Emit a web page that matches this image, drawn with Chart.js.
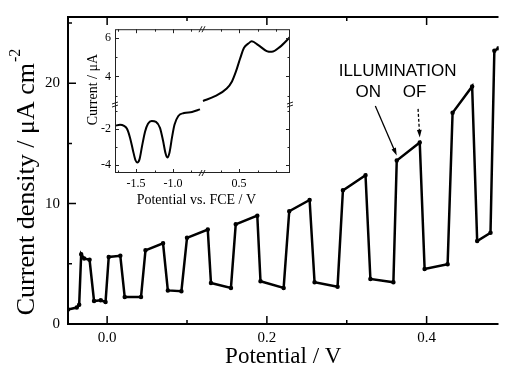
<!DOCTYPE html>
<html>
<head>
<meta charset="utf-8">
<script src="https://cdn.jsdelivr.net/npm/chart.js@4"></script>
<style>
  html, body { margin: 0; padding: 0; background: #fff; }
  #wrap { position: relative; width: 505px; height: 371px; }
  #main { position: absolute; left: 0; top: 0; }
  #inset { position: absolute; left: 78px; top: 18px; }
</style>
</head>
<body>
<div id="wrap">
  <canvas id="main" width="505" height="371"></canvas>
  <canvas id="inset" width="220" height="192"></canvas>
</div>
<script>
// main plot: photocurrent under chopped light
const potential = [-0.049, -0.038, -0.035, -0.0325, -0.0288, -0.022, -0.0164, -0.008, -0.002, 0.002, 0.0165, 0.022, 0.0424, 0.048, 0.070, 0.076, 0.093, 0.100, 0.126, 0.130, 0.155, 0.161, 0.188, 0.192, 0.221, 0.228, 0.2535, 0.2597, 0.2885, 0.2952, 0.3235, 0.3296, 0.3584, 0.3626, 0.3914, 0.3975, 0.4263, 0.4325, 0.457, 0.4633, 0.480, 0.4848, 0.490];
const current = [1.2, 1.37, 1.6, 5.8, 5.44, 5.33, 1.91, 1.97, 1.83, 5.57, 5.66, 2.24, 2.24, 6.12, 6.70, 2.79, 2.73, 7.16, 7.84, 3.40, 3.0, 8.28, 9.0, 3.55, 3.0, 9.37, 10.3, 3.47, 3.1, 11.1, 12.35, 3.74, 3.47, 13.58, 15.08, 4.57, 4.97, 17.54, 19.73, 6.89, 7.57, 22.7, 22.9];
const xLabels = [0, 0.2, 0.4];
const yLabels = [0, 10, 20];

// inset: voltammogram, two pieces on broken axes
const cathV = [-1.784, -1.716, -1.662, -1.622, -1.581, -1.541, -1.507, -1.482, -1.453, -1.419, -1.378, -1.338, -1.288, -1.230, -1.176, -1.135, -1.101, -1.077, -1.047, -1.014, -0.980, -0.928, -0.851, -0.743, -0.635];
const cathI = [-1.84, -1.78, -1.84, -2.0, -2.49, -3.19, -3.73, -3.85, -3.68, -2.97, -2.16, -1.73, -1.57, -1.62, -1.95, -2.65, -3.35, -3.58, -3.30, -2.49, -1.78, -1.30, -1.14, -1.08, -0.94];
const anodV = [0.0135, 0.176, 0.334, 0.405, 0.459, 0.514, 0.568, 0.626, 0.672, 0.761, 0.874, 0.942, 1.054, 1.189];
const anodI = [2.72, 2.97, 3.37, 3.74, 4.26, 4.92, 5.49, 5.71, 5.83, 5.63, 5.32, 5.28, 5.54, 6.05];
const insetXLabels = [-1.5, -1.0, 0.5];
const insetYLabels = [-4, -2, 4, 6];

const serif = "'Liberation Serif', 'Times New Roman', serif";
const sans = "'Liberation Sans', Arial, sans-serif";

const has = (list, v) => list.some(l => Math.abs(l - v) < 1e-6);

// text + arrows, in data units of the main plot
const notes = [
  { text: 'ILLUMINATION', x: 0.3636, y: 20.98 },
  { text: 'ON', x: 0.327, y: 19.26 },
  { text: 'OF', x: 0.385, y: 19.26 }
];
const arrows = [
  { from: [0.3358, 18.11], to: [0.3626, 13.99], dash: [] },
  { from: [0.3893, 17.87], to: [0.3914, 15.49], dash: [3, 2] }
];

function arrow(ctx, x1, y1, x2, y2, dash) {
  const ang = Math.atan2(y2 - y1, x2 - x1);
  ctx.save();
  ctx.lineWidth = 1.3;
  ctx.setLineDash(dash);
  ctx.beginPath();
  ctx.moveTo(x1, y1);
  ctx.lineTo(x2 - 5 * Math.cos(ang), y2 - 5 * Math.sin(ang));
  ctx.stroke();
  ctx.setLineDash([]);
  ctx.beginPath();
  ctx.moveTo(x2, y2);
  ctx.lineTo(x2 - 8 * Math.cos(ang - 0.3), y2 - 8 * Math.sin(ang - 0.3));
  ctx.lineTo(x2 - 8 * Math.cos(ang + 0.3), y2 - 8 * Math.sin(ang + 0.3));
  ctx.closePath();
  ctx.fill();
  ctx.restore();
}

const mainFrame = {
  id: 'mainFrame',
  afterDraw(chart) {
    const { ctx, chartArea: a } = chart;
    const x = chart.scales.x, y = chart.scales.y;
    ctx.save();
    ctx.strokeStyle = '#000';
    ctx.fillStyle = '#000';
    ctx.lineWidth = 2;
    ctx.beginPath();
    ctx.moveTo(a.right, a.top); ctx.lineTo(a.left, a.top);
    ctx.lineTo(a.left, a.bottom); ctx.lineTo(a.right, a.bottom);
    ctx.stroke();
    ctx.lineWidth = 1.5;
    ctx.beginPath();
    x.ticks.forEach(t => {
      const px = x.getPixelForValue(t.value);
      const len = t.label ? 8 : 4;
      ctx.moveTo(px, a.bottom); ctx.lineTo(px, a.bottom - len);
      ctx.moveTo(px, a.top); ctx.lineTo(px, a.top + len);
    });
    y.ticks.forEach(t => {
      const py = y.getPixelForValue(t.value);
      const len = t.label ? 8 : 4;
      ctx.moveTo(a.left, py); ctx.lineTo(a.left + len, py);
    });
    ctx.stroke();

    // y title with superscript
    ctx.save();
    ctx.translate(27, (a.top + a.bottom) / 2 + 12);
    ctx.rotate(-Math.PI / 2);
    ctx.textBaseline = 'middle';
    const main = 'Current density / μA cm';
    ctx.font = '26px ' + serif;
    const w1 = ctx.measureText(main).width;
    ctx.font = '16px ' + serif;
    const w2 = ctx.measureText('-2').width;
    const x0 = -(w1 + w2) / 2;
    ctx.font = '26px ' + serif;
    ctx.fillText(main, x0, 0);
    ctx.font = '16px ' + serif;
    ctx.fillText('-2', x0 + w1 + 1, -11);
    ctx.restore();

    ctx.font = '17px ' + sans;
    ctx.textAlign = 'center';
    ctx.textBaseline = 'middle';
    notes.forEach(n => ctx.fillText(n.text, x.getPixelForValue(n.x), y.getPixelForValue(n.y)));
    arrows.forEach(r => arrow(ctx,
      x.getPixelForValue(r.from[0]), y.getPixelForValue(r.from[1]),
      x.getPixelForValue(r.to[0]), y.getPixelForValue(r.to[1]), r.dash));
    ctx.restore();
  }
};

new Chart(document.getElementById('main'), {
  type: 'line',
  data: {
    datasets: [{
      data: potential.map((v, i) => ({ x: v, y: current[i] })),
      borderColor: '#000',
      backgroundColor: '#000',
      borderWidth: 2.5,
      pointRadius: 1,
      tension: 0
    }]
  },
  options: {
    responsive: false,
    animation: false,
    layout: { padding: { top: 13, right: 0, left: 0, bottom: 0 } },
    plugins: { legend: { display: false }, tooltip: { enabled: false } },
    scales: {
      x: {
        type: 'linear', min: -0.049, max: 0.49,
        grid: { display: false, drawTicks: false }, border: { display: false },
        ticks: {
          stepSize: 0.1, includeBounds: false, padding: 5, color: '#000',
          autoSkip: false, maxRotation: 0,
          font: { family: serif, size: 15 },
          callback: v => has(xLabels, v) ? v.toFixed(1) : ''
        },
        title: { display: true, text: 'Potential / V', color: '#000', font: { family: serif, size: 23 }, padding: 0 },
        afterFit: s => { s.height = 47; }
      },
      y: {
        min: 0, max: 25.5,
        grid: { display: false, drawTicks: false }, border: { display: false },
        ticks: {
          stepSize: 5, includeBounds: false, padding: 8, color: '#000',
          autoSkip: false,
          font: { family: serif, size: 15 },
          callback: v => has(yLabels, v) ? String(v) : ''
        },
        afterFit: s => { s.width = 68; }
      }
    }
  },
  plugins: [mainFrame]
});

// inset
const insetFrame = {
  id: 'insetFrame',
  beforeDraw(chart) {
    const { ctx, chartArea: a } = chart;
    ctx.save();
    ctx.fillStyle = '#fff';
    ctx.fillRect(a.left, a.top, a.right - a.left, a.bottom - a.top);
    ctx.restore();
  },
  afterDraw(chart) {
    const { ctx, chartArea: a, scales } = chart;
    ctx.save();
    ctx.strokeStyle = '#222';
    ctx.fillStyle = '#000';
    ctx.lineWidth = 1;
    ctx.strokeRect(a.left + 0.5, a.top + 0.5, a.right - a.left - 1, a.bottom - a.top - 1);
    ctx.beginPath();
    ['xL', 'xR'].forEach(id => {
      const s = scales[id];
      s.ticks.forEach(t => {
        if (t.value <= s.min || t.value >= s.max) return;
        const px = Math.round(s.getPixelForValue(t.value)) + 0.5;
        const len = t.label ? 4 : 2.5;
        ctx.moveTo(px, a.bottom); ctx.lineTo(px, a.bottom - len);
        ctx.moveTo(px, a.top); ctx.lineTo(px, a.top + len);
      });
    });
    ['yT', 'yB'].forEach(id => {
      const s = scales[id];
      s.ticks.forEach(t => {
        if (t.value <= s.min || t.value >= s.max) return;
        const py = Math.round(s.getPixelForValue(t.value)) + 0.5;
        const len = t.label ? 4 : 2.5;
        ctx.moveTo(a.left, py); ctx.lineTo(a.left + len, py);
        ctx.moveTo(a.right, py); ctx.lineTo(a.right - len, py);
      });
    });
    ctx.stroke();

    // axis break marks
    const bx = scales.xL.right, by = scales.yT.bottom;
    ctx.beginPath();
    [a.top, a.bottom].forEach(yy => {
      ctx.moveTo(bx - 3, yy + 3); ctx.lineTo(bx, yy - 3);
      ctx.moveTo(bx, yy + 3); ctx.lineTo(bx + 3, yy - 3);
    });
    [a.left, a.right].forEach(xx => {
      ctx.moveTo(xx - 3, by - 1); ctx.lineTo(xx + 3, by - 3);
      ctx.moveTo(xx - 3, by + 2); ctx.lineTo(xx + 3, by);
    });
    ctx.stroke();

    ctx.font = '14px ' + serif;
    ctx.textAlign = 'center';
    ctx.textBaseline = 'middle';
    ctx.fillText('Potential vs. FCE / V', a.left + (a.right - a.left) * 0.465, a.bottom + 27);
    ctx.translate(a.left - 22, a.top + (a.bottom - a.top) * 0.42);
    ctx.rotate(-Math.PI / 2);
    ctx.fillText('Current / μA', 0, 0);
    ctx.restore();
  }
};

const insetTicks = (step, fmt) => ({
  stepSize: step, includeBounds: false, padding: 4, color: '#000',
  autoSkip: false, maxRotation: 0, minRotation: 0,
  font: { family: serif, size: 12 },
  callback: fmt
});

new Chart(document.getElementById('inset'), {
  type: 'line',
  data: {
    datasets: [
      { data: cathV.map((v, i) => ({ x: v, y: cathI[i] })), xAxisID: 'xL', yAxisID: 'yB' },
      { data: anodV.map((v, i) => ({ x: v, y: anodI[i] })), xAxisID: 'xR', yAxisID: 'yT' }
    ]
  },
  options: {
    responsive: false,
    animation: false,
    layout: { padding: { top: 9, right: 8, left: 0, bottom: 0 } },
    elements: {
      line: { borderColor: '#000', borderWidth: 2, cubicInterpolationMode: 'monotone' },
      point: { radius: 0 }
    },
    plugins: { legend: { display: false }, tooltip: { enabled: false } },
    scales: {
      xL: {
        type: 'linear', position: 'bottom', stack: 'ix', stackWeight: 87,
        min: -1.784, max: -0.608,
        grid: { display: false, drawTicks: false }, border: { display: false },
        ticks: insetTicks(0.25, v => has(insetXLabels, v) ? v.toFixed(1) : ''),
        afterFit: s => { s.height = 37; }
      },
      xR: {
        type: 'linear', position: 'bottom', stack: 'ix', stackWeight: 88,
        min: 0, max: 1.189,
        grid: { display: false, drawTicks: false }, border: { display: false },
        ticks: insetTicks(0.25, v => has(insetXLabels, v) ? v.toFixed(1) : ''),
        afterFit: s => { s.height = 37; }
      },
      yB: {
        type: 'linear', position: 'left', stack: 'iy', stackWeight: 69,
        min: -4.43, max: -0.70,
        grid: { display: false, drawTicks: false }, border: { display: false },
        ticks: insetTicks(1, v => has(insetYLabels, v) ? String(v) : ''),
        afterFit: s => { s.width = 37; }
      },
      yT: {
        type: 'linear', position: 'left', stack: 'iy', stackWeight: 77,
        min: 2.51, max: 6.46,
        grid: { display: false, drawTicks: false }, border: { display: false },
        ticks: insetTicks(1, v => has(insetYLabels, v) ? String(v) : ''),
        afterFit: s => { s.width = 37; }
      }
    }
  },
  plugins: [insetFrame]
});
</script>
</body>
</html>
